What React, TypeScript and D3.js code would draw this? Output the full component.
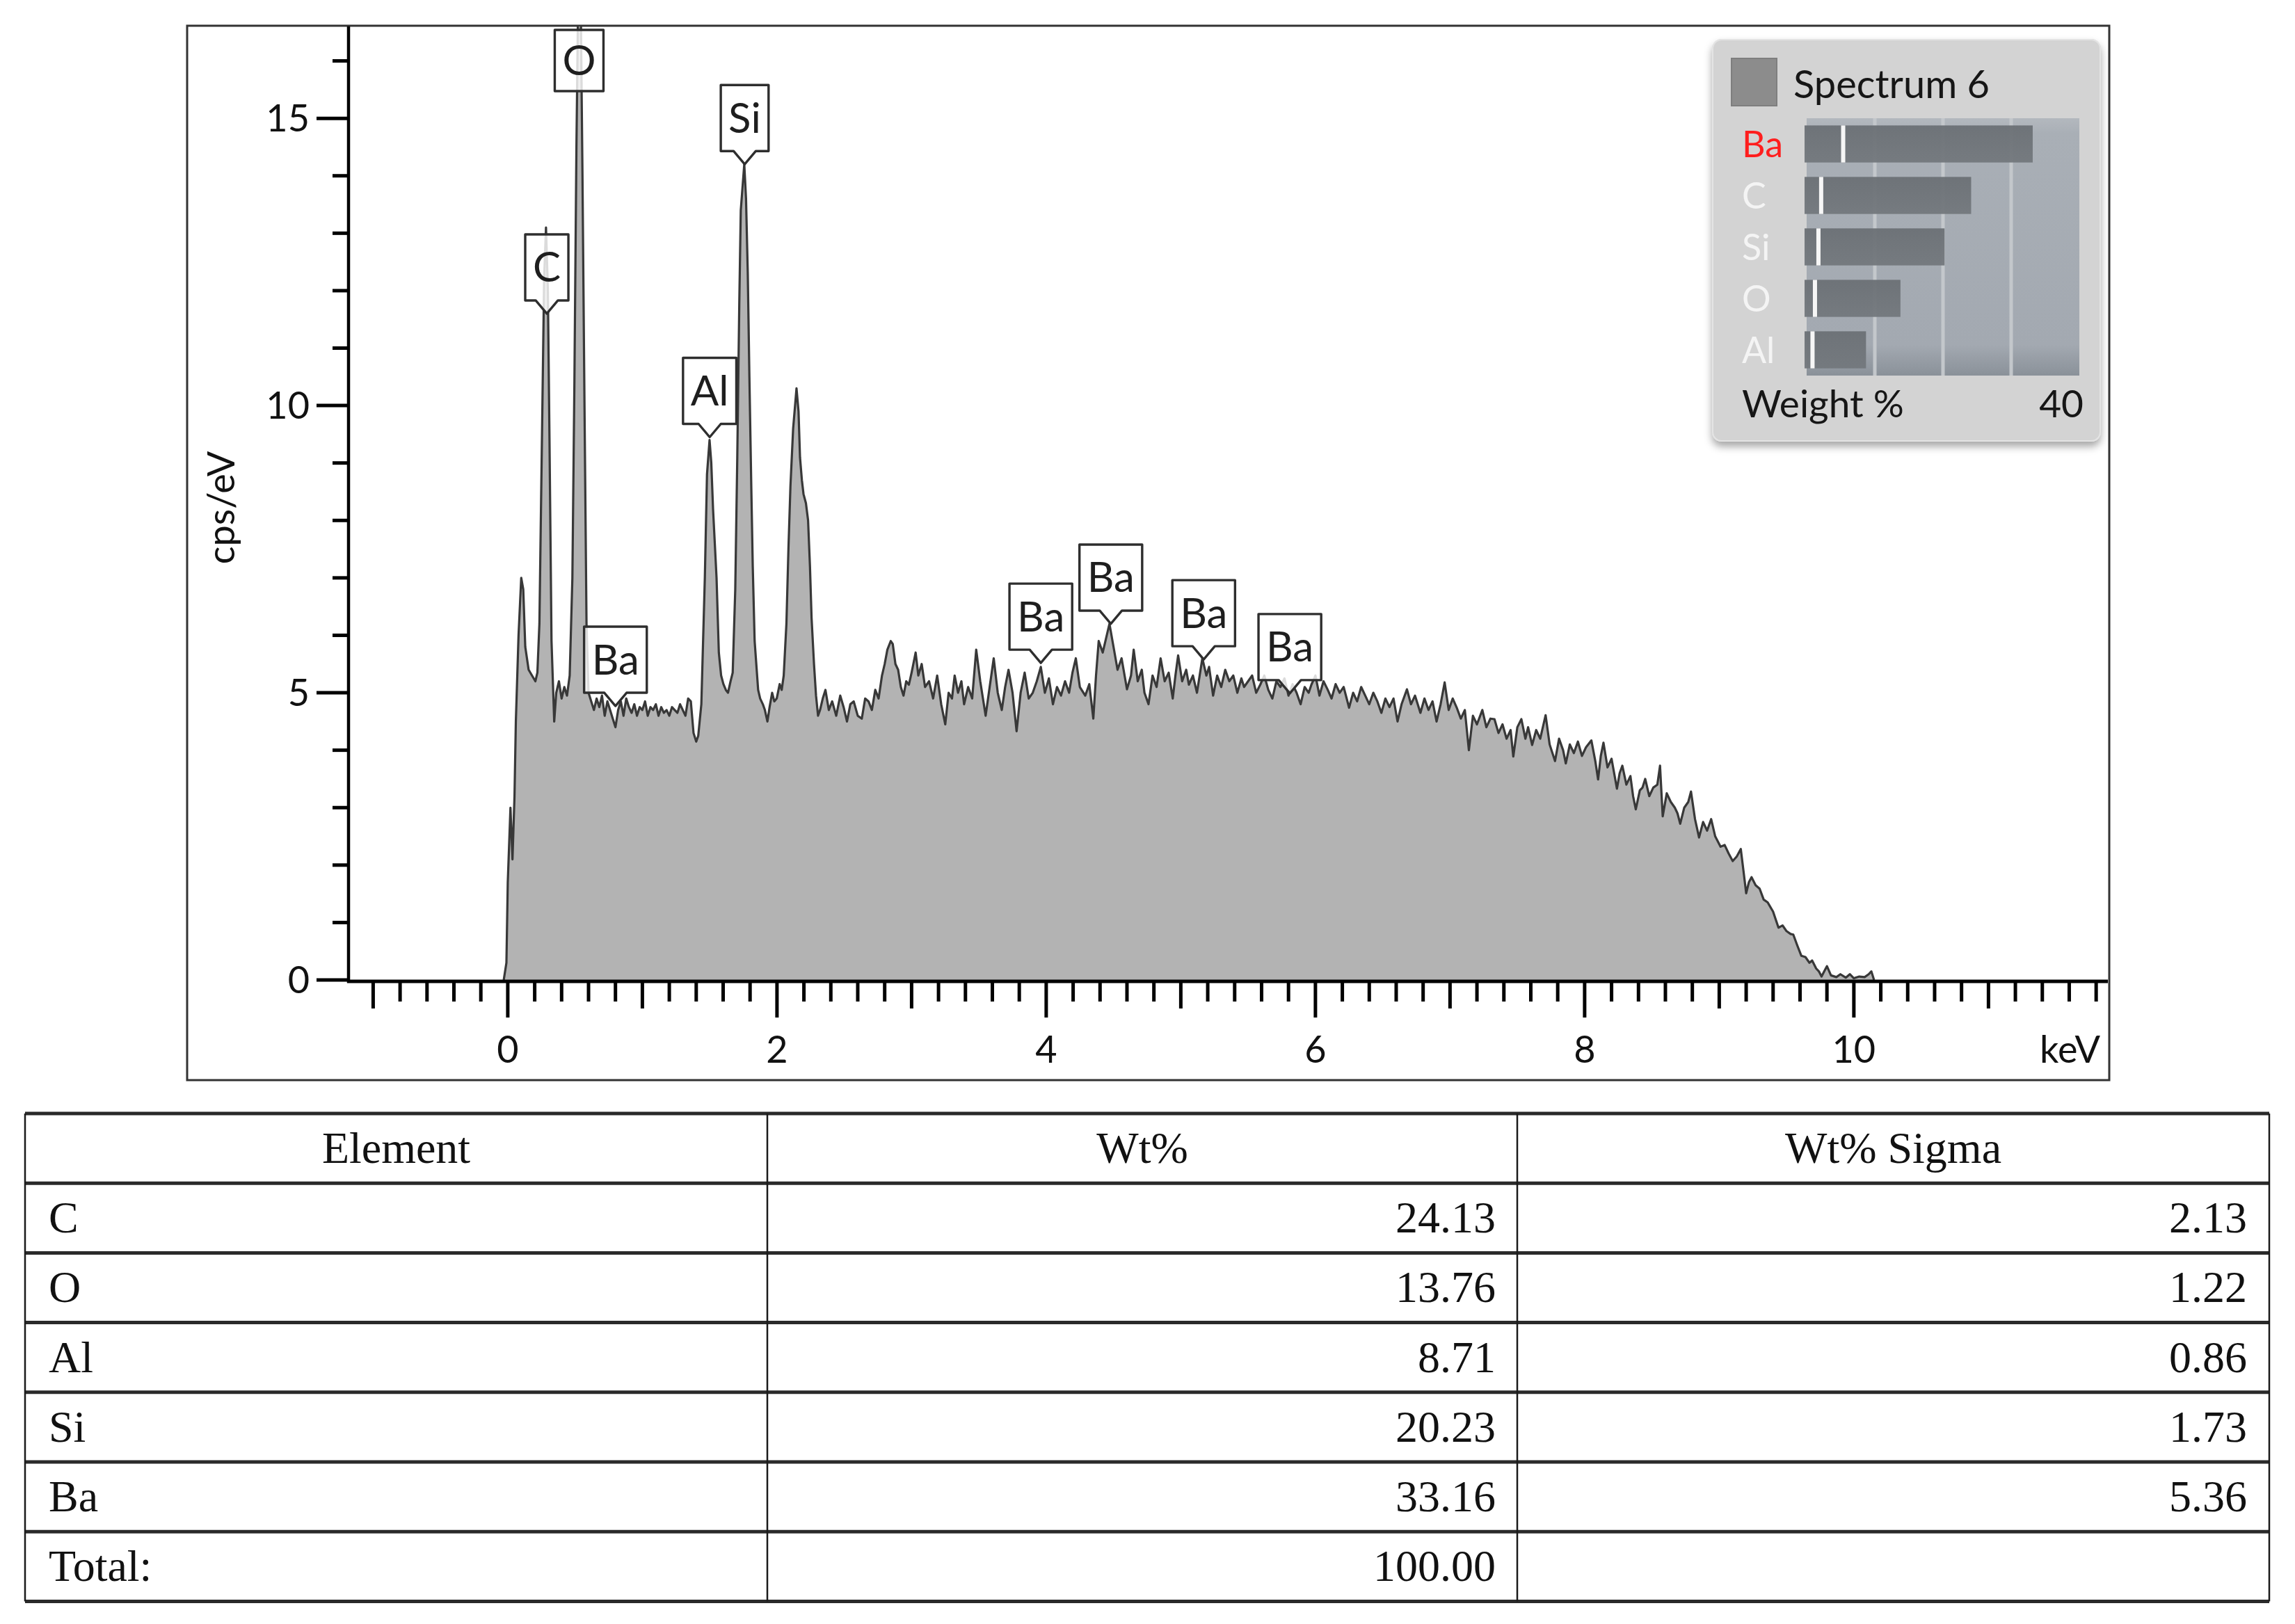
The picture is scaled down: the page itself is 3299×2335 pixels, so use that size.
import React from 'react';
import * as d3 from 'd3';

// ---------------- DATA ----------------
// EDS spectrum: [keV, cps/eV]
const spectrumPoints: [number, number][] = [
  [-0.03, 0], [-0.01, 0.3], [0.0, 1.7], [0.02, 3.0], [0.035, 2.1], [0.05, 3.2], [0.06, 4.5], [0.08, 6.0],
  [0.10, 7.0], [0.115, 6.8], [0.13, 5.8], [0.155, 5.4], [0.18, 5.3], [0.205, 5.2], [0.22, 5.35], [0.235, 6.2],
  [0.255, 9.6], [0.27, 12.2], [0.284, 13.1], [0.298, 12.0], [0.31, 9.4], [0.325, 5.9], [0.345, 4.5], [0.36, 5.0],
  [0.38, 5.2], [0.40, 4.9], [0.42, 5.1], [0.44, 4.95], [0.46, 5.3], [0.48, 7.0], [0.495, 10.4], [0.51, 14.5],
  [0.525, 17.5], [0.54, 17.5], [0.555, 14.0], [0.57, 10.0], [0.585, 6.2], [0.60, 5.0],
  [0.62, 4.85], [0.64, 4.7], [0.66, 4.9], [0.68, 4.75], [0.70, 4.95], [0.72, 4.6], [0.74, 4.85], [0.76, 4.7],
  [0.78, 4.55], [0.80, 4.4], [0.82, 4.7], [0.84, 4.85], [0.86, 4.6], [0.88, 4.9], [0.90, 4.75], [0.92, 4.65],
  [0.94, 4.8], [0.96, 4.6], [0.98, 4.75], [1.00, 4.7], [1.02, 4.85], [1.04, 4.6], [1.06, 4.75], [1.08, 4.7],
  [1.10, 4.8], [1.12, 4.6], [1.14, 4.75], [1.16, 4.65], [1.18, 4.7], [1.20, 4.6], [1.22, 4.75], [1.24, 4.7],
  [1.26, 4.65], [1.28, 4.8], [1.30, 4.7], [1.32, 4.6], [1.34, 4.9], [1.36, 4.85], [1.38, 4.3], [1.40, 4.15],
  [1.415, 4.25], [1.438, 4.8], [1.464, 7.0], [1.48, 8.8], [1.499, 9.4], [1.512, 9.0], [1.525, 8.2], [1.551, 7.0],
  [1.568, 5.7], [1.585, 5.3], [1.602, 5.15], [1.62, 5.05], [1.636, 5.0], [1.655, 5.2], [1.671, 5.35], [1.69, 6.8],
  [1.705, 9.1], [1.72, 11.8], [1.731, 13.4], [1.757, 14.2], [1.77, 13.6], [1.783, 12.3], [1.795, 10.5], [1.809, 8.6],
  [1.82, 7.2], [1.834, 5.9], [1.86, 5.05], [1.875, 4.9], [1.895, 4.8], [1.91, 4.7], [1.929, 4.5], [1.945, 4.75],
  [1.964, 5.0], [1.98, 4.85], [1.998, 4.9], [2.02, 5.15], [2.035, 5.05], [2.05, 5.3], [2.07, 6.2], [2.085, 7.5],
  [2.10, 8.6], [2.12, 9.6], [2.145, 10.3], [2.16, 9.9], [2.171, 9.1], [2.185, 8.7], [2.197, 8.46], [2.215, 8.3],
  [2.231, 8.0], [2.245, 7.2], [2.257, 6.3], [2.275, 5.5], [2.29, 4.95], [2.305, 4.6], [2.32, 4.7], [2.34, 4.9],
  [2.36, 5.05], [2.385, 4.7], [2.41, 4.85], [2.44, 4.6], [2.47, 4.95], [2.495, 4.75], [2.52, 4.5], [2.545, 4.8],
  [2.57, 4.85], [2.60, 4.6], [2.63, 4.55], [2.655, 4.9], [2.68, 4.85], [2.705, 4.7], [2.73, 5.05], [2.755, 4.9],
  [2.78, 5.3], [2.80, 5.5], [2.82, 5.75], [2.845, 5.9], [2.86, 5.85], [2.88, 5.5], [2.90, 5.4], [2.92, 5.1],
  [2.94, 4.95], [2.96, 5.2], [2.98, 5.14], [3.00, 5.35], [3.03, 5.7], [3.05, 5.3], [3.075, 5.5], [3.10, 5.1],
  [3.13, 5.2], [3.16, 4.9], [3.19, 5.3], [3.22, 4.8], [3.25, 4.45], [3.275, 5.0], [3.30, 4.9], [3.32, 5.3],
  [3.345, 5.0], [3.37, 5.2], [3.39, 4.8], [3.42, 5.1], [3.45, 4.9], [3.48, 5.75], [3.51, 5.2], [3.53, 4.9],
  [3.55, 4.6], [3.58, 5.1], [3.61, 5.6], [3.64, 5.0], [3.67, 4.7], [3.695, 5.1], [3.72, 5.4], [3.75, 5.0],
  [3.78, 4.33], [3.81, 5.0], [3.84, 5.35], [3.87, 4.9], [3.90, 5.0], [3.93, 5.2], [3.96, 5.45], [3.99, 5.0],
  [4.02, 5.25], [4.05, 4.8], [4.08, 5.1], [4.11, 4.95], [4.14, 5.2], [4.17, 5.0], [4.195, 5.35], [4.22, 5.6],
  [4.25, 5.1], [4.29, 4.95], [4.32, 5.15], [4.35, 4.55], [4.37, 5.3], [4.39, 5.9], [4.42, 5.7], [4.45, 6.0],
  [4.47, 6.2], [4.50, 5.8], [4.53, 5.4], [4.56, 5.6], [4.60, 5.06], [4.63, 5.3], [4.65, 5.75], [4.68, 5.2],
  [4.71, 5.4], [4.73, 5.0], [4.76, 4.8], [4.79, 5.3], [4.82, 5.1], [4.85, 5.6], [4.88, 5.2], [4.91, 5.35],
  [4.94, 4.9], [4.96, 5.3], [4.98, 5.65], [5.01, 5.2], [5.04, 5.4], [5.06, 5.14], [5.09, 5.3], [5.12, 5.0],
  [5.16, 5.6], [5.19, 5.3], [5.21, 5.45], [5.24, 4.95], [5.27, 5.3], [5.30, 5.1], [5.33, 5.4], [5.36, 5.2],
  [5.39, 5.3], [5.42, 5.0], [5.45, 5.25], [5.47, 5.1], [5.50, 5.2], [5.53, 5.3], [5.56, 5.0], [5.59, 5.14],
  [5.62, 5.3], [5.65, 5.05], [5.68, 4.9], [5.71, 5.2], [5.74, 5.1], [5.77, 5.25], [5.80, 4.95], [5.83, 5.15],
  [5.86, 5.0], [5.89, 4.8], [5.92, 5.1], [5.95, 5.0], [5.97, 5.14], [6.00, 5.3], [6.03, 4.95], [6.06, 5.2],
  [6.09, 5.06], [6.12, 4.9], [6.15, 5.15], [6.18, 5.0], [6.21, 5.1], [6.25, 4.74], [6.28, 5.0], [6.31, 4.85],
  [6.34, 5.1], [6.37, 4.95], [6.40, 4.8], [6.43, 5.0], [6.46, 4.85], [6.49, 4.65], [6.52, 4.9], [6.55, 4.75],
  [6.58, 4.9], [6.61, 4.5], [6.64, 4.8], [6.68, 5.06], [6.71, 4.8], [6.74, 4.95], [6.78, 4.65], [6.81, 4.9],
  [6.84, 4.7], [6.87, 4.85], [6.90, 4.5], [6.93, 4.8], [6.96, 5.18], [6.99, 4.7], [7.02, 4.9], [7.05, 4.74],
  [7.08, 4.55], [7.11, 4.7], [7.14, 4.0], [7.17, 4.6], [7.20, 4.45], [7.24, 4.7], [7.27, 4.4], [7.30, 4.55],
  [7.33, 4.54], [7.36, 4.3], [7.39, 4.45], [7.42, 4.2], [7.45, 4.35], [7.47, 3.89], [7.50, 4.4], [7.53, 4.54],
  [7.56, 4.2], [7.58, 4.4], [7.61, 4.09], [7.64, 4.35], [7.67, 4.2], [7.71, 4.61], [7.74, 4.1], [7.78, 3.81],
  [7.81, 4.2], [7.84, 4.0], [7.86, 3.77], [7.89, 4.1], [7.92, 3.95], [7.95, 4.15], [7.98, 3.9], [8.01, 4.05],
  [8.05, 4.17], [8.08, 3.8], [8.10, 3.49], [8.12, 3.9], [8.14, 4.13], [8.17, 3.7], [8.20, 3.85], [8.24, 3.33],
  [8.26, 3.6], [8.28, 3.73], [8.31, 3.4], [8.34, 3.55], [8.36, 3.2], [8.38, 2.97], [8.41, 3.3], [8.43, 3.35],
  [8.45, 3.5], [8.48, 3.2], [8.51, 3.35], [8.54, 3.4], [8.56, 3.73], [8.58, 2.85], [8.61, 3.25], [8.64, 3.1],
  [8.67, 3.0], [8.69, 2.9], [8.71, 2.72], [8.74, 3.0], [8.77, 3.1], [8.79, 3.28], [8.82, 2.8], [8.85, 2.48],
  [8.88, 2.75], [8.91, 2.6], [8.94, 2.8], [8.97, 2.5], [9.01, 2.32], [9.04, 2.35], [9.07, 2.2], [9.10, 2.07],
  [9.13, 2.15], [9.16, 2.28], [9.18, 1.9], [9.20, 1.51], [9.22, 1.7], [9.24, 1.79], [9.27, 1.65], [9.30, 1.59],
  [9.33, 1.4], [9.36, 1.35], [9.40, 1.19], [9.42, 1.05], [9.44, 0.91], [9.47, 0.95], [9.50, 0.85], [9.53, 0.8],
  [9.55, 0.79], [9.58, 0.6], [9.61, 0.42], [9.64, 0.4], [9.67, 0.3], [9.69, 0.34], [9.72, 0.2], [9.74, 0.15],
  [9.76, 0.06], [9.78, 0.15], [9.80, 0.24], [9.83, 0.08], [9.87, 0.05], [9.90, 0.1], [9.94, 0.04], [9.97, 0.1],
  [10.00, 0.03], [10.04, 0.06], [10.08, 0.05], [10.11, 0.1], [10.13, 0.15], [10.15, 0.0],
];

// peak markers
const peakLabelElements = ['C', 'O', 'Ba', 'Al', 'Si', 'Ba', 'Ba', 'Ba', 'Ba'];
const peakLabelKeV = [0.29, 0.53, 0.80, 1.50, 1.76, 3.96, 4.48, 5.17, 5.81];
const peakLabelCps = [11.6, 16.3, 4.77, 9.45, 14.2, 5.52, 6.2, 5.58, 4.99];

// axes
const xDomain = [-1.183, 11.887];
const yDomain = [0, 16.6];
const xMajorTicks = [0, 2, 4, 6, 8, 10];
const yMajorTicks = [0, 5, 10, 15];
const xUnitLabel = 'keV';
const yAxisTitle = 'cps/eV';

// legend (quantification bars)
const legendTitle = 'Spectrum 6';
const legendElements = ['Ba', 'C', 'Si', 'O', 'Al'];
const legendWt = [33.16, 24.13, 20.23, 13.76, 8.71];
const legendSigma = [5.36, 2.13, 1.73, 1.22, 0.86];
const legendHighlight = 'Ba';
const legendAxisLabel = 'Weight %';
const legendMax = 40;
const legendGrid = [10, 20, 30];

// table
const tableHeaders = ['Element', 'Wt%', 'Wt% Sigma'];
const tableElements = ['C', 'O', 'Al', 'Si', 'Ba', 'Total:'];
const tableWt = ['24.13', '13.76', '8.71', '20.23', '33.16', '100.00'];
const tableSigma = ['2.13', '1.22', '0.86', '1.73', '5.36', ''];

// ---------------- LAYOUT ----------------
const W = 3299;
const H = 2335;
const SANS = 'Lato, "Open Sans", "DejaVu Sans", sans-serif';
const SERIF = '"Liberation Serif", "DejaVu Serif", serif';

const plot = { left: 501, right: 3030, top: 38, bottom: 1409 };

function measureText(txt: string, font: string): number {
  if (typeof document === 'undefined') return txt.length * 34;
  const c = document.createElement('canvas').getContext('2d');
  if (!c) return txt.length * 34;
  c.font = font;
  return c.measureText(txt).width;
}

export default function App() {
  const x = d3.scaleLinear().domain(xDomain).range([plot.left, plot.right]);
  const y = d3.scaleLinear().domain(yDomain).range([plot.bottom, plot.top]);

  const area = d3
    .area<[number, number]>()
    .x((d) => x(d[0]))
    .y0(y(0))
    .y1((d) => y(d[1]));
  const line = d3
    .line<[number, number]>()
    .x((d) => x(d[0]))
    .y((d) => y(d[1]));

  // ticks
  const xMinor = d3.range(-5, 60).map((i) => Math.round(i * 0.2 * 10) / 10);
  const yMinor = d3.range(0, 17);
  const axisY = plot.bottom + 2;

  // legend scales
  const lx = d3.scaleLinear().domain([0, legendMax]).range([2597, 2989]);
  const ly = d3
    .scaleBand<string>()
    .domain(legendElements)
    .range([170, 540])
    .paddingInner(0.28)
    .paddingOuter(0.14);

  // table geometry
  const colX = [36, 1103, 2181, 3262];
  const rowY = d3.range(0, 8).map((i) => 1601 + i * 100.2);

  const labelFont = `60px ${SANS}`;

  return (
    <svg
      width={W}
      height={H}
      viewBox={`0 0 ${W} ${H}`}
      style={{ position: 'absolute', left: 0, top: 0, display: 'block', background: '#fff' }}
    >
      <defs>
        <clipPath id="plotClip">
          <rect x={plot.left} y={plot.top} width={plot.right - plot.left} height={plot.bottom - plot.top + 2} />
        </clipPath>
        <linearGradient id="legBg" x1="0" y1="0" x2="0" y2="1">
          <stop offset="0" stopColor="#b3b8be" />
          <stop offset="0.06" stopColor="#a9afb6" />
          <stop offset="0.88" stopColor="#a3a9b1" />
          <stop offset="1" stopColor="#8a9199" />
        </linearGradient>
        <linearGradient id="legBar" x1="0" y1="0" x2="0" y2="1">
          <stop offset="0" stopColor="#6b7075" />
          <stop offset="1" stopColor="#73787d" />
        </linearGradient>
        <filter id="legShadow" x="-10%" y="-10%" width="120%" height="125%">
          <feDropShadow dx="0" dy="7" stdDeviation="6" floodColor="#000" floodOpacity="0.35" />
        </filter>
      </defs>

      <rect x={0} y={0} width={W} height={H} fill="#ffffff" />

      {/* chart frame */}
      <rect x={269} y={37} width={3032 - 269} height={1553 - 37} fill="none" stroke="#333" strokeWidth={3} />

      {/* spectrum */}
      <g clipPath="url(#plotClip)">
        <path d={area(spectrumPoints) || ''} fill="#b3b3b3" />
        <path d={line(spectrumPoints) || ''} fill="none" stroke="#383838" strokeWidth={3.2} strokeLinejoin="round" />
      </g>

      {/* peak labels */}
      {peakLabelElements.map((el, i) => {
        const cx = x(peakLabelKeV[i]);
        const tipY = y(peakLabelCps[i]);
        const w = measureText(el, labelFont) + 22;
        const boxH = 95;
        const ptr = 19;
        let bottom = tipY - ptr;
        let top = bottom - boxH;
        const pinned = top < plot.top + 3;
        let d: string;
        if (pinned) {
          top = plot.top + 5;
          bottom = top + 88;
          d = `M${cx - w / 2},${top} H${cx + w / 2} V${bottom} H${cx - w / 2} Z`;
        } else {
          d = `M${cx - w / 2},${top} H${cx + w / 2} V${bottom} H${cx + 16} L${cx},${tipY} L${cx - 16},${bottom} H${cx - w / 2} Z`;
        }
        return (
          <g key={`pl${i}`}>
            <path d={d} fill="#ffffff" fillOpacity={0.82} stroke="#2e2e2e" strokeWidth={3.4} strokeLinejoin="round" />
            <text
              x={cx}
              y={(top + bottom) / 2 + 21}
              textAnchor="middle"
              fontFamily={SANS}
              fontSize={60}
              fill="#1e1e1e"
            >
              {el}
            </text>
          </g>
        );
      })}

      {/* y axis */}
      <line x1={plot.left} x2={plot.left} y1={plot.top} y2={axisY + 2} stroke="#000" strokeWidth={4.5} />
      {yMinor.map((v) => {
        const major = yMajorTicks.includes(v);
        return (
          <line
            key={`ym${v}`}
            x1={major ? 455 : 478}
            x2={plot.left}
            y1={y(v)}
            y2={y(v)}
            stroke="#000"
            strokeWidth={5}
          />
        );
      })}
      {yMajorTicks.map((v) => (
        <text key={`yt${v}`} x={445} y={y(v) + 19} textAnchor="end" fontFamily={SANS} fontSize={54} fill="#111">
          {v}
        </text>
      ))}
      <text
        transform={`translate(337,${730}) rotate(-90)`}
        textAnchor="middle"
        fontFamily={SANS}
        fontSize={54}
        fill="#111"
      >
        {yAxisTitle}
      </text>

      {/* x axis */}
      <line x1={plot.left - 2} x2={plot.right} y1={axisY} y2={axisY} stroke="#000" strokeWidth={5} />
      {xMinor
        .filter((v) => v >= -1 && v <= 11.8 + 1e-9)
        .map((v) => {
          const isMajor = xMajorTicks.includes(v);
          const isMid = !isMajor && Math.abs(v - Math.round(v)) < 1e-9;
          const len = isMajor ? 52 : isMid ? 39 : 29;
          return (
            <line
              key={`xm${v}`}
              x1={x(v)}
              x2={x(v)}
              y1={axisY}
              y2={axisY + len}
              stroke="#000"
              strokeWidth={5}
            />
          );
        })}
      {xMajorTicks.map((v) => (
        <text key={`xt${v}`} x={x(v)} y={1528} textAnchor="middle" fontFamily={SANS} fontSize={54} fill="#111">
          {v}
        </text>
      ))}
      <text x={3019} y={1528} textAnchor="end" fontFamily={SANS} fontSize={54} fill="#111">
        {xUnitLabel}
      </text>

      {/* legend */}
      <g>
        <rect x={2461} y={56} width={559} height={579} rx={14} fill="#d3d3d3" filter="url(#legShadow)" />
        <rect x={2462} y={57} width={557} height={577} rx={13} fill="#d3d3d3" stroke="#e4e4e4" strokeWidth={2} />
        <rect x={2489} y={84} width={65} height={68} fill="#8c8c8c" stroke="#7e7e7e" strokeWidth={2} />
        <text x={2578} y={141} fontFamily={SANS} fontSize={56} fill="#161616">
          {legendTitle}
        </text>
        <rect x={lx(0)} y={170} width={lx(legendMax) - lx(0)} height={370} fill="url(#legBg)" />
        {legendGrid.map((g) => (
          <line key={`lg${g}`} x1={lx(g)} x2={lx(g)} y1={170} y2={540} stroke="#c3c7cb" strokeWidth={5} />
        ))}
        {legendElements.map((el, i) => {
          const by = ly(el) || 0;
          const bh = ly.bandwidth();
          return (
            <g key={`lb${el}`}>
              <rect x={lx(0) - 3} y={by} width={lx(legendWt[i]) - lx(0) + 3} height={bh} fill="url(#legBar)" fillOpacity={0.95} />
              <rect x={lx(legendSigma[i]) - 3} y={by} width={6} height={bh} fill="#f6f6f6" />
              <text
                x={2504}
                y={by + bh / 2 + 19}
                fontFamily={SANS}
                fontSize={52}
                fill={el === legendHighlight ? '#ff1e1e' : '#f4f4f4'}
              >
                {el}
              </text>
            </g>
          );
        })}
        <text x={2504} y={600} fontFamily={SANS} fontSize={55} fill="#161616">
          {legendAxisLabel}
        </text>
        <text x={2995} y={600} textAnchor="end" fontFamily={SANS} fontSize={55} fill="#161616">
          {legendMax}
        </text>
      </g>

      {/* table */}
      <g>
        {rowY.slice(0, 8).map((ry, i) => (
          <line key={`hr${i}`} x1={colX[0]} x2={colX[3]} y1={ry} y2={ry} stroke="#2a2a2a" strokeWidth={5} />
        ))}
        {colX.map((cx, i) => (
          <line key={`vr${i}`} x1={cx} x2={cx} y1={rowY[0]} y2={rowY[7]} stroke="#1a1a1a" strokeWidth={2.5} />
        ))}
        {tableHeaders.map((h, i) => (
          <text
            key={`th${i}`}
            x={(colX[i] + colX[i + 1]) / 2}
            y={rowY[0] + 71}
            textAnchor="middle"
            fontFamily={SERIF}
            fontSize={64}
            fill="#111"
          >
            {h}
          </text>
        ))}
        {tableElements.map((el, r) => (
          <g key={`tr${r}`}>
            <text x={colX[0] + 34} y={rowY[r + 1] + 71} fontFamily={SERIF} fontSize={64} fill="#111">
              {el}
            </text>
            <text x={colX[2] - 31} y={rowY[r + 1] + 71} textAnchor="end" fontFamily={SERIF} fontSize={64} fill="#111">
              {tableWt[r]}
            </text>
            <text x={colX[3] - 32} y={rowY[r + 1] + 71} textAnchor="end" fontFamily={SERIF} fontSize={64} fill="#111">
              {tableSigma[r]}
            </text>
          </g>
        ))}
      </g>
    </svg>
  );
}
